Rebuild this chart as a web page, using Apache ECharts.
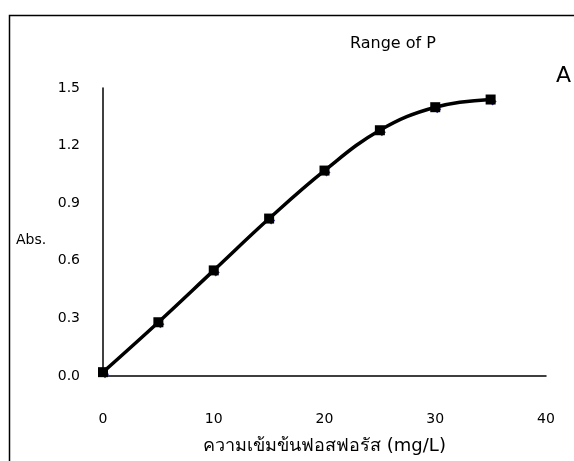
<!DOCTYPE html>
<html>
<head>
<meta charset="utf-8">
<script src="https://cdn.jsdelivr.net/npm/echarts@6/dist/echarts.min.js"></script>
<style>
html, body { margin: 0; padding: 0; background: #fff; }
#chart { width: 574px; height: 461px; }
</style>
</head>
<body>
<div id="chart"></div>
<script>
let concentration = [0, 5, 10, 15, 20, 25, 30, 35];
let absorbance = [0.02, 0.28, 0.55, 0.82, 1.07, 1.28, 1.40, 1.44];

let points = concentration.map((x, i) => [x, absorbance[i]]);
let font = "Tahoma, 'DejaVu Sans', sans-serif";

let chart = echarts.init(document.getElementById("chart"), null, {width: 574, height: 461});

chart.setOption({
	animation: false,
	backgroundColor: "#fff",
	graphic: [
		{type: "rect", shape: {x: 9.5, y: 15.5, width: 700, height: 600},
			style: {fill: null, stroke: "#000", lineWidth: 1.5}},
		{type: "text", left: 350, top: 36,
			style: {text: "Range of P", font: "16px " + font, fill: "#000"}},
		{type: "text", left: 556, top: 65,
			style: {text: "A", font: "22px " + font, fill: "#000"}},
		{type: "text", left: 16, top: 233,
			style: {text: "Abs.", font: "14px " + font, fill: "#000"}}
	],
	grid: {left: 103, right: 28, top: 88, bottom: 85, outerBoundsMode: "none"},
	xAxis: {
		type: "value", min: 0, max: 40, interval: 10,
		name: "ความเข้มข้นฟอสฟอรัส (mg/L)",
		nameLocation: "middle", nameGap: 61,
		nameTextStyle: {fontSize: 18, color: "#000", fontFamily: font},
		axisLine: {onZero: false, lineStyle: {color: "#000", width: 1.5}},
		axisTick: {show: false},
		splitLine: {show: false},
		axisLabel: {margin: 36, fontSize: 14, color: "#000", fontFamily: font}
	},
	yAxis: {
		type: "value", min: 0, max: 1.5, interval: 0.3,
		axisLine: {show: true, lineStyle: {color: "#000", width: 1.5}},
		axisTick: {show: false},
		splitLine: {show: false},
		axisLabel: {margin: 23, fontSize: 14, color: "#000", fontFamily: font,
			formatter: v => v.toFixed(1)}
	},
	series: [
		{
			type: "scatter", data: points,
			symbol: "diamond", symbolSize: 8, symbolOffset: [2, 2],
			itemStyle: {color: "#00008b"}, z: 2
		},
		{
			type: "line", data: points, smooth: 0.4,
			symbol: "rect", symbolSize: 10,
			showAllSymbol: true,
			lineStyle: {color: "#000", width: 3.5},
			itemStyle: {color: "#000"}, z: 3
		}
	]
});
</script>
</body>
</html>
